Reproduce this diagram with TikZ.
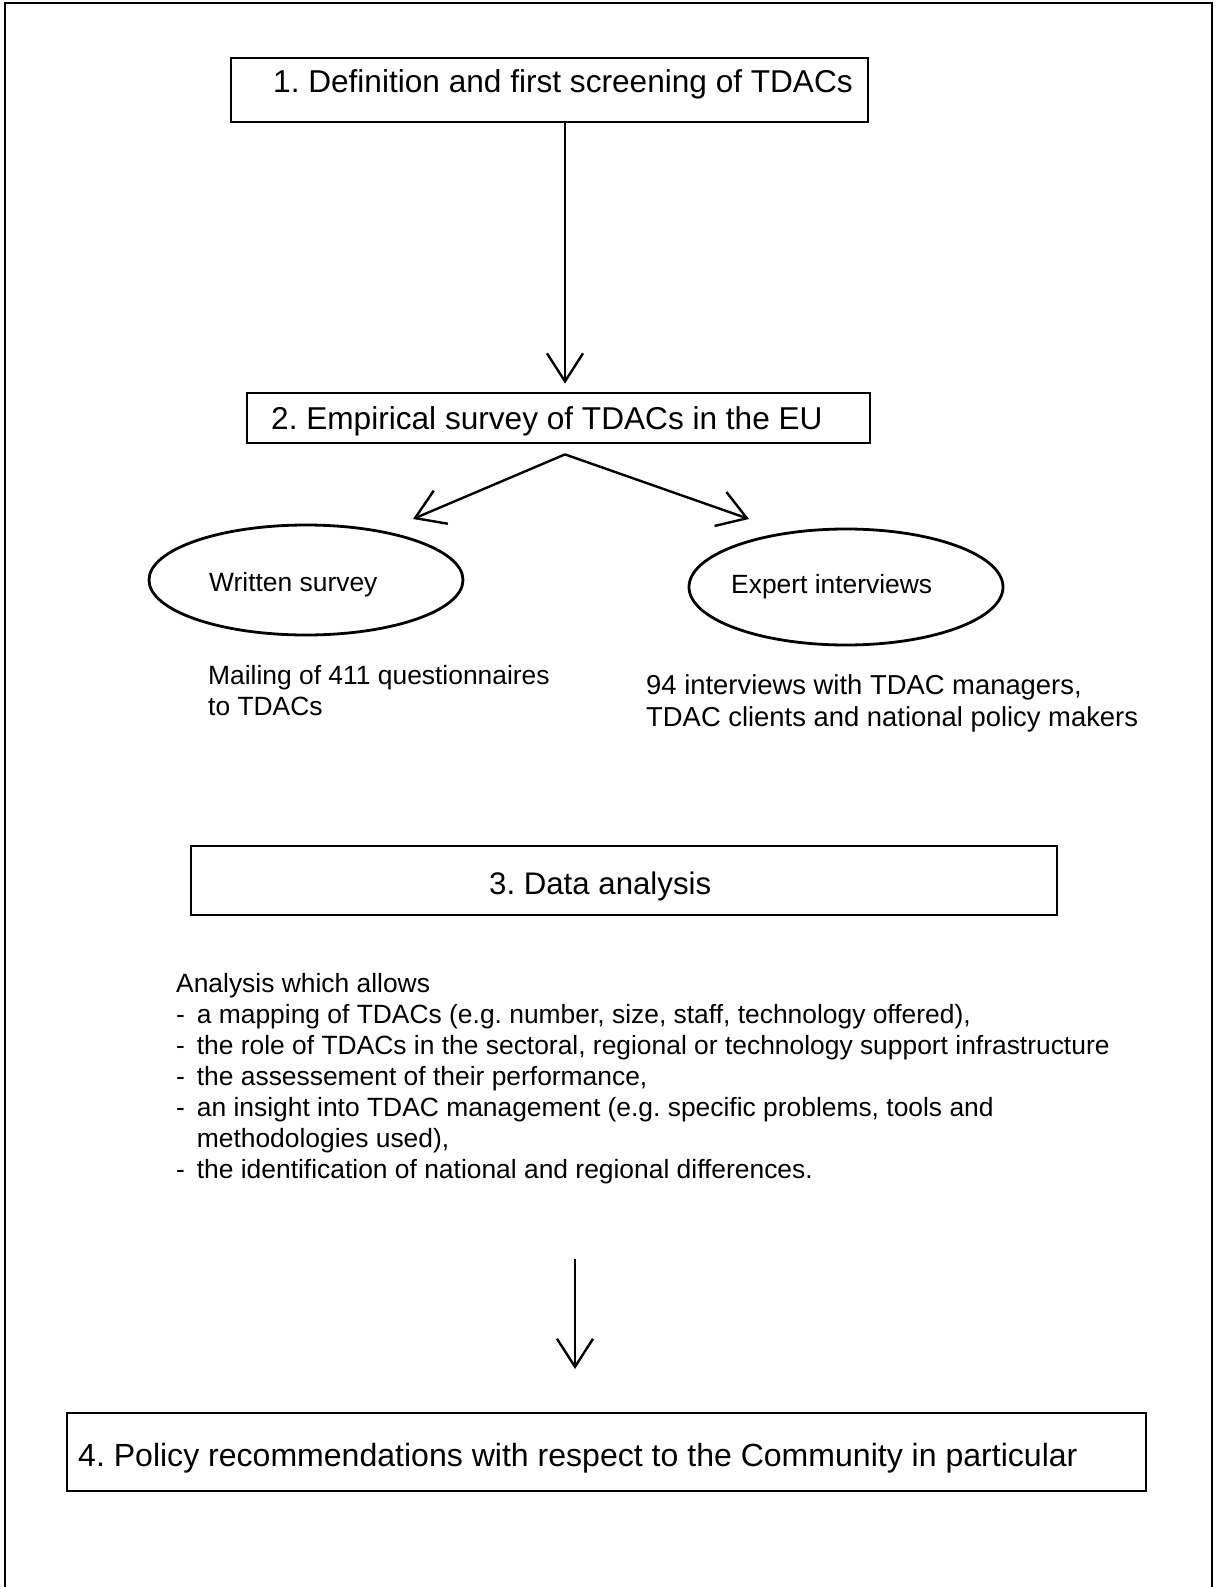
\documentclass[tikz,border=0pt]{standalone}
\usepackage{fontspec}
\setmainfont{Liberation Sans}
\usetikzlibrary{arrows.meta,shapes.geometric}
\begin{document}
\frenchspacing
\begin{tikzpicture}[x=1pt,y=-1pt,
  box/.style={draw, line width=2.8pt, rectangle, inner sep=0pt},
  oval/.style={draw, line width=2.8pt, ellipse, inner sep=0pt},
  lbl/.style={anchor=west, inner sep=0pt, font=\fontsize{31.6}{37}\selectfont},
  small/.style={anchor=west, inner sep=0pt, align=left, font=\fontsize{26.4}{31.5}\selectfont},
  arr/.style={line width=2.4pt, -{Straight Barb[length=28pt,width=36pt,line width=2.4pt]}}]
\useasboundingbox (0,0) rectangle (1216,1587);
\draw[line width=2.4pt] (5,1595) -- (5,3) -- (1212,3) -- (1212,1595);
% boxes
\node[box, minimum width=637pt, minimum height=64pt] (b1) at (549.5,90) {};
\node[lbl] (t1) at (273,84) {1. Definition and first screening of TDACs};
\node[box, minimum width=623pt, minimum height=50pt] (b2) at (558.5,418) {};
\node[lbl] (t2) at (271,421) {2. Empirical survey of TDACs in the EU};
\node[oval, minimum width=314pt, minimum height=110pt] (e1) at (306,580) {};
\node[small] (te1) at (209,585) {Written survey};
\node[oval, minimum width=314pt, minimum height=116pt] (e2) at (846,587) {};
\node[small] (te2) at (731,587) {Expert interviews};
\node[small, anchor=north west] (m1) at (208,665) {Mailing of 411 questionnaires\\to TDACs};
\node[small, anchor=north west, font=\fontsize{27.4}{32.5}\selectfont] (m2) at (646,674) {94 interviews with TDAC managers,\\TDAC clients and national policy makers};
\node[box, minimum width=866pt, minimum height=69pt] (b3) at (624,880.5) {};
\node[lbl, font=\fontsize{31.2}{37}\selectfont] (t3) at (489,886) {3. Data analysis};
\node[small, anchor=north west, font=\fontsize{26.4}{31.1}\selectfont] (para) at (176,973) {%
Analysis which allows\\
-\hspace{0.45em}a mapping of TDACs (e.g. number, size, staff, technology offered),\\
-\hspace{0.45em}the role of TDACs in the sectoral, regional or technology support infrastructure\\
-\hspace{0.45em}the assessement of their performance,\\
-\hspace{0.45em}an insight into TDAC management (e.g. specific problems, tools and\\
\phantom{-}\hspace{0.45em}methodologies used),\\
-\hspace{0.45em}the identification of national and regional differences.};
\node[box, minimum width=1079pt, minimum height=78pt] (b4) at (606.5,1452) {};
\node[lbl, font=\fontsize{32.05}{38}\selectfont] (t4) at (78,1458) {4. Policy recommendations with respect to the Community in particular};
% connectors
\draw[arr] ([xshift=15.5pt]b1.south) -- ([xshift=6.5pt,yshift=8pt]b2.north);
\coordinate (apex) at ([xshift=6.5pt,yshift=-10pt]b2.south);
\coordinate (tipL) at (413,519);
\coordinate (tipR) at (749,519);
\draw[arr] (apex) -- (tipL);
\draw[arr] (apex) -- (tipR);
\coordinate (a2s) at (575,1259);
\coordinate (a2e) at (575,1369);
\draw[arr] (a2s) -- (a2e);
\end{tikzpicture}
\end{document}
